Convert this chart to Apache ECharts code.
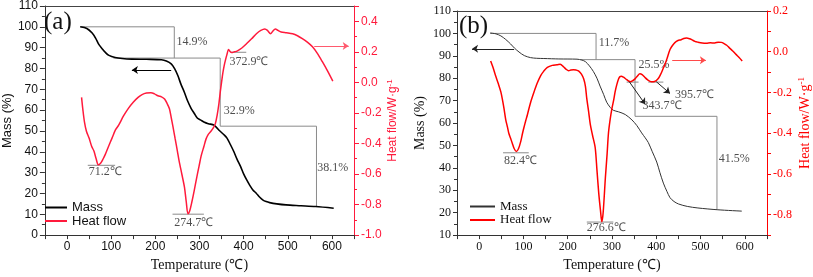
<!DOCTYPE html>
<html><head><meta charset="utf-8">
<script src="https://cdn.jsdelivr.net/npm/echarts@6/dist/echarts.min.js"></script>
<style>html,body{margin:0;padding:0;background:#fff}#c{width:813px;height:277px}</style>
</head><body><div id="c"></div>
<script>
// ---------- Panel (a) ----------
const massA_T = [30,45,57,65,72,80,87,95,109,125,147,180,214,225,236,244,251,258,266,273,281,288,295,303,310,320,333,345,355,362,370,378,385,393,400,407,414,421,429,436,444,451,459,475,496,530,563,604];
const massA_V = [100,99.2,97,94.5,91.6,89.4,87.7,86.3,85.3,84.8,84.5,84.4,84.2,83.6,82.2,79.8,76.6,72.5,68.5,64.5,60.9,58.5,56.2,55.2,54.3,53.5,52.8,50.2,48.3,46.7,43.5,40,36.5,33.0,29.4,26.5,23.9,21.7,20,18.3,16.8,16.1,15.6,15.0,14.5,14.1,13.7,12.9];
const heatA_T = [33,36,39.5,44,50,56,61,66,71,76,82,87,94,102,110,117,128,139,150,161,170,180,190,198,206,214,221,227,232,236,240,245,250,254,260,266,270,274,278,283,288,294,299,304,310,315,320,326,331,336,340,344,347,350,353,356,359,362,366,370,373,379,385,396,407,418,429,439,448,454,461,466,472,478,485,497,511,522,533,545,556,567,578,590,602];
const heatA_V = [-0.098,-0.18,-0.258,-0.32,-0.365,-0.42,-0.45,-0.50,-0.54,-0.53,-0.50,-0.47,-0.42,-0.365,-0.31,-0.28,-0.22,-0.17,-0.13,-0.098,-0.08,-0.07,-0.068,-0.075,-0.088,-0.095,-0.109,-0.14,-0.173,-0.23,-0.29,-0.37,-0.45,-0.515,-0.6,-0.686,-0.78,-0.86,-0.84,-0.78,-0.71,-0.62,-0.55,-0.48,-0.42,-0.37,-0.34,-0.32,-0.30,-0.27,-0.216,-0.14,-0.066,0.0,0.062,0.11,0.147,0.18,0.216,0.20,0.195,0.2,0.205,0.225,0.254,0.285,0.318,0.34,0.35,0.34,0.318,0.335,0.35,0.34,0.33,0.325,0.318,0.305,0.286,0.262,0.233,0.19,0.137,0.075,0.008];
const bracketsA = [
  [[30,100],[243,100],[243,85]],
  [[105,85],[347,85],[347,52.3],[565,52.3],[565,13.7]]
];
const minMarksA = [[[47,-0.543],[109,-0.543]],[[239,-0.863],[310,-0.863]],[[370,0.197],[406,0.197]]];
const massLabelsA = [[248,93,'14.9%'],[355,59.5,'32.9%'],[567,32.1,'38.1%']];
const heatLabelsA = [[49,-0.585,'71.2℃'],[243,-0.921,'274.7℃'],[368,0.137,'372.9℃']];
const arrowMassA = [[236,79.3],[147,79.3]];
const arrowHeatA = [[560,0.238],[638,0.238]];

// ---------- Panel (b) ----------
const massB_T = [25,38,49,60,71,80,90,102,116,130,146,180,221,232,240,249,258,266,273,281,288,296,303,315,330,345,356,367,375,382,391,401,408,416,424,431,440,450,470,494,539,593];
const massB_V = [100.2,99.8,98.9,97.3,95.3,93.4,91.7,90.1,89.2,88.9,88.8,88.6,88.5,88.1,87.4,85.5,83,80,76.5,72.8,69.3,67,65.7,65,63.8,61.4,58.9,55.6,53.4,51.3,47.2,42.6,38,33.2,29.5,26.7,25,23.9,22.8,22.1,21.3,20.7];
const heatB_T = [26,31,37,43,49,53,56,60,64,67,71,75,79,84,89,94,98,101,105,109,116,124,131,139,146,154,165,176,183,191,196,202,207,213,219,225,231,236,240,243,247,251,256,262,266,270,274,277,280,285,289,292,296,300,304,307,311,315,318,321,326,332,337,341,346,352,357,363,368,374,380,389,396,404,410,415,419,424,431,437,442,449,456,462,468,475,481,487,494,504,513,522,532,540,547,553,559,565,572,580,587,594];
const heatB_V = [-0.045,-0.075,-0.117,-0.155,-0.197,-0.24,-0.277,-0.333,-0.37,-0.40,-0.425,-0.45,-0.475,-0.49,-0.475,-0.44,-0.40,-0.373,-0.34,-0.309,-0.25,-0.197,-0.155,-0.117,-0.095,-0.077,-0.067,-0.064,-0.061,-0.075,-0.085,-0.093,-0.09,-0.088,-0.09,-0.095,-0.11,-0.133,-0.17,-0.229,-0.29,-0.357,-0.41,-0.47,-0.58,-0.693,-0.78,-0.835,-0.79,-0.62,-0.50,-0.40,-0.33,-0.277,-0.235,-0.197,-0.16,-0.133,-0.122,-0.12,-0.125,-0.135,-0.143,-0.147,-0.143,-0.133,-0.12,-0.108,-0.112,-0.125,-0.137,-0.147,-0.146,-0.133,-0.11,-0.085,-0.065,-0.035,0.011,0.032,0.045,0.055,0.059,0.065,0.067,0.064,0.058,0.051,0.047,0.043,0.042,0.044,0.043,0.047,0.046,0.04,0.032,0.019,0.005,-0.013,-0.028,-0.045];
const bracketsB = [
  [[25,100],[264,100],[264,88.3]],
  [[229,88.3],[352,88.3],[352,63],[537,63],[537,21.3]]
];
const minMarksB = [[[54,-0.496],[112,-0.496]],[[243,-0.836],[303,-0.836]],[[333,-0.149],[360,-0.149]],[[382,-0.149],[416,-0.149]]];
const massLabelsB = [[270,96,'11.7%'],[360,85.9,'25.5%'],[541,44.1,'41.5%']];
const heatLabelsB = [[56,-0.537,'82.4℃'],[243,-0.865,'276.6℃'],[369,-0.267,'343.7℃'],[442,-0.213,'395.7℃']];
const arrowMassB = [[79,93.1],[-16,93.1]];
const arrowHeatB = [[436,-0.042],[512,-0.042]];
const arrowsDiagB = [[[339,-0.147],[375,-0.258]],[[400,-0.147],[431,-0.205]]];

// ---------- helpers ----------
const SANS = 'Liberation Sans', SERIF = 'Liberation Serif';
const RED_A = '#ff1a3c', RED_B = '#ff0000';
const zip = (a,b) => a.map((x,i)=>[x,b[i]]);
const fmt1 = v => (Math.abs(v) < 1e-9 ? '0.0' : v.toFixed(1));

function xAxisBottom(g, font, fs) {
  return {gridIndex:g, type:'value', min:-50, max:650, interval:50, position:'bottom',
    axisLine:{onZero:false, lineStyle:{color:'#333', width:1}},
    axisTick:{length:4, lineStyle:{color:'#333'}}, splitLine:{show:false},
    axisLabel:{formatter:v => (v % 100 === 0 && v >= 0 && v <= 600) ? String(v) : '', fontFamily:font, fontSize:fs, color:'#111', margin:6},
    name:'Temperature (℃)', nameLocation:'middle', nameGap:20,
    nameTextStyle:{fontFamily:SERIF, fontSize:14, color:'#111'}};
}
function xAxisTop(g) {
  return {gridIndex:g, type:'value', min:-50, max:650, position:'top',
    axisLine:{onZero:false, lineStyle:{color:'#444'}}, axisTick:{show:false}, axisLabel:{show:false}, splitLine:{show:false}};
}
function bracketSeries(list, xi, yi) {
  return list.map(pts => ({type:'line', xAxisIndex:xi, yAxisIndex:yi, data:pts, symbol:'none', silent:true,
    lineStyle:{color:'#8a8a8a', width:1}, z:1}));
}
function labelSeries(list, xi, yi, font) {
  return {type:'scatter', xAxisIndex:xi, yAxisIndex:yi, symbolSize:0, silent:true,
    data:list.map(d => ({value:[d[0],d[1]], label:{show:true, position:'right', distance:0, formatter:d[2],
      fontFamily:font, fontSize:12, color:'#222'}}))};
}
function arrow(pts, color) {
  return [{coord:pts[0], symbol:'none', lineStyle:{color:color}, itemStyle:{color:color}},
          {coord:pts[1], symbol:'arrow', symbolSize:6, itemStyle:{color:color}}];
}
function arrowSeries(xi, yi, items) {
  return {type:'line', xAxisIndex:xi, yAxisIndex:yi, data:[], silent:true,
    markLine:{silent:true, animation:false, symbol:['none','arrow'], symbolSize:6, label:{show:false},
      lineStyle:{type:'solid', width:1}, emphasis:{disabled:true}, data:items}};
}

const series = [
  {name:'massA', type:'line', xAxisIndex:0, yAxisIndex:0, data:zip(massA_T,massA_V), symbol:'none', smooth:0.3,
   lineStyle:{color:'#000', width:1.6}, itemStyle:{color:'#000'}, z:3},
  {name:'heatA', type:'line', xAxisIndex:0, yAxisIndex:1, data:zip(heatA_T,heatA_V), symbol:'none', smooth:0.3,
   lineStyle:{color:RED_A, width:1.5}, itemStyle:{color:RED_A}, z:3},
  ...bracketSeries(bracketsA, 0, 0),
  ...bracketSeries(minMarksA, 0, 1),
  labelSeries(massLabelsA, 0, 0, SERIF),
  labelSeries(heatLabelsA, 0, 1, SERIF),
  arrowSeries(0, 0, [arrow(arrowMassA,'#000')]),
  arrowSeries(0, 1, [arrow(arrowHeatA,'#ff5a6e')]),

  {name:'massB', type:'line', xAxisIndex:2, yAxisIndex:2, data:zip(massB_T,massB_V), symbol:'none', smooth:0.3,
   lineStyle:{color:'#333', width:1}, itemStyle:{color:'#333'}, z:3},
  {name:'heatB', type:'line', xAxisIndex:2, yAxisIndex:3, data:zip(heatB_T,heatB_V), symbol:'none', smooth:0.3,
   lineStyle:{color:RED_B, width:1.5}, itemStyle:{color:RED_B}, z:3},
  ...bracketSeries(bracketsB, 2, 2),
  ...bracketSeries(minMarksB, 2, 3),
  labelSeries(massLabelsB, 2, 2, SERIF),
  labelSeries(heatLabelsB, 2, 3, SERIF),
  arrowSeries(2, 2, [arrow(arrowMassB,'#222')]),
  arrowSeries(2, 3, [arrow(arrowHeatB,'#ff4a4a'), ...arrowsDiagB.map(p => arrow(p,'#222'))])
];

const option = {
  animation:false,
  title:[
    {text:'(a)', left:44, top:10, padding:0, textStyle:{fontFamily:SERIF, fontSize:25, fontWeight:'normal', color:'#111'}},
    {text:'(b)', left:459, top:14, padding:0, textStyle:{fontFamily:SERIF, fontSize:25, fontWeight:'normal', color:'#111'}}
  ],
  legend:[
    {left:45, top:201, orient:'vertical', icon:'rect', itemWidth:22, itemHeight:2, itemGap:0.5, padding:0,
     data:['massA','heatA'], formatter:n => n === 'massA' ? 'Mass' : 'Heat flow',
     textStyle:{fontFamily:SANS, fontSize:13, color:'#111', lineHeight:13}},
    {left:470, top:200, orient:'vertical', icon:'rect', itemWidth:25, itemHeight:2, itemGap:0.5, padding:0,
     data:['massB','heatB'], formatter:n => n === 'massB' ? 'Mass' : 'Heat flow',
     textStyle:{fontFamily:SERIF, fontSize:13, color:'#111', lineHeight:13}}
  ],
  grid:[
    {left:39, top:6, width:315, height:233, containLabel:false},
    {left:457, top:11, width:312, height:231, containLabel:false}
  ],
  xAxis:[xAxisBottom(0, SANS, 12), xAxisTop(0), xAxisBottom(1, SERIF, 12), xAxisTop(1)],
  yAxis:[
    {gridIndex:0, type:'value', min:0, max:110, interval:10, position:'left',
     axisLine:{show:true, onZero:false, lineStyle:{color:'#333'}}, axisTick:{show:true, length:5, lineStyle:{color:'#333'}},
     minorTick:{show:true, splitNumber:2, length:3, lineStyle:{color:'#333'}}, splitLine:{show:false},
     axisLabel:{fontFamily:SANS, fontSize:12, color:'#111', margin:7},
     name:'Mass (%)', nameLocation:'middle', nameGap:26, nameTextStyle:{fontFamily:SANS, fontSize:13, color:'#111'}},
    {gridIndex:0, type:'value', min:-1.0, max:0.5, interval:0.2, position:'right',
     axisLine:{show:true, onZero:false, lineStyle:{color:RED_A}}, axisTick:{show:true, length:5, lineStyle:{color:RED_A}},
     minorTick:{show:true, splitNumber:2, length:3, lineStyle:{color:RED_A}}, splitLine:{show:false},
     axisLabel:{formatter:v => v > 0.45 ? '' : fmt1(v), fontFamily:SANS, fontSize:12, color:RED_A, margin:7},
     name:'Heat flow/W·g{s|-1}', nameLocation:'middle', nameGap:32, nameRotate:90,
     nameTextStyle:{fontFamily:SANS, fontSize:12, color:RED_A, rich:{s:{fontFamily:SANS, fontSize:8, color:RED_A, padding:[0,0,6,0]}}}},
    {gridIndex:1, type:'value', min:10, max:110, interval:10, position:'left',
     axisLine:{show:true, onZero:false, lineStyle:{color:'#333'}}, axisTick:{show:true, length:4, lineStyle:{color:'#333'}},
     minorTick:{show:true, splitNumber:2, length:3, lineStyle:{color:'#333'}}, splitLine:{show:false},
     axisLabel:{fontFamily:SERIF, fontSize:12, color:'#111', margin:6},
     name:'Mass (%)', nameLocation:'middle', nameGap:30, nameTextStyle:{fontFamily:SERIF, fontSize:14, color:'#111'}},
    {gridIndex:1, type:'value', min:-0.9, max:0.2, interval:0.1, position:'right',
     axisLine:{show:true, onZero:false, lineStyle:{color:RED_B}}, axisTick:{show:true, length:4, lineStyle:{color:RED_B}},
     splitLine:{show:false},
     axisLabel:{formatter:v => (Math.round(v*10) % 2 === 0) ? fmt1(v) : '', fontFamily:SERIF, fontSize:12, color:RED_B, margin:6},
     name:'Heat flow/W·g{s|-1}', nameLocation:'middle', nameGap:30, nameRotate:90,
     nameTextStyle:{fontFamily:SERIF, fontSize:14, color:RED_B, rich:{s:{fontFamily:SERIF, fontSize:9, color:RED_B, padding:[0,0,7,0]}}}}
  ],
  series: series
};
const chart = echarts.init(document.getElementById('c'), null, {renderer:'canvas'});
chart.setOption(option);
</script>
</body></html>
